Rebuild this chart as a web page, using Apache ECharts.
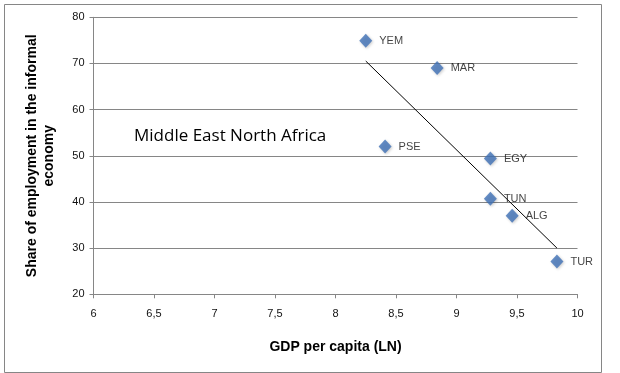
<!DOCTYPE html>
<html>
<head>
<meta charset="utf-8">
<script src="https://cdn.jsdelivr.net/npm/echarts@6/dist/echarts.min.js"></script>
<style>html,body{margin:0;padding:0;background:#fff}#c{width:620px;height:373px}</style>
</head>
<body>
<div id="c"></div>
<script>
const countries = ['YEM', 'MAR', 'PSE', 'EGY', 'TUN', 'ALG', 'TUR'];
const gdpLn = [8.25, 8.84, 8.41, 9.28, 9.28, 9.46, 9.83];
const informalShare = [74.9, 69.0, 52.0, 49.4, 40.7, 37.0, 27.1];
const xTicks = [6, 6.5, 7, 7.5, 8, 8.5, 9, 9.5, 10];
const yTicks = [20, 30, 40, 50, 60, 70, 80];

// linear trend line (least squares) over the data
const n = gdpLn.length;
const mx = gdpLn.reduce((a, b) => a + b, 0) / n;
const my = informalShare.reduce((a, b) => a + b, 0) / n;
let sxy = 0, sxx = 0;
for (let i = 0; i < n; i++) { sxy += (gdpLn[i] - mx) * (informalShare[i] - my); sxx += (gdpLn[i] - mx) ** 2; }
const slope = sxy / sxx, icpt = my - slope * mx;
const xMin = Math.min(...gdpLn), xMax = Math.max(...gdpLn);
const trend = [[xMin, icpt + slope * xMin], [xMax, icpt + slope * xMax]];

const font = '"Liberation Sans", Arial, sans-serif';
const chart = echarts.init(document.getElementById('c'), null, { renderer: 'canvas' });
chart.setOption({
  animation: false,
  backgroundColor: '#fff',
  grid: { left: 93.5, right: 42.5, top: 17.3, bottom: 78.7, containLabel: false },
  xAxis: {
    type: 'value', min: xTicks[0], max: xTicks[xTicks.length - 1], interval: 0.5,
    axisLine: { show: true, onZero: false, lineStyle: { color: '#868686', width: 1 } },
    axisTick: { show: true, length: 4, lineStyle: { color: '#868686' } },
    splitLine: { show: false },
    axisLabel: { color: '#111', fontSize: 11, fontFamily: font, margin: 14,
      formatter: v => String(v).replace('.', ',') },
    name: 'GDP per capita (LN)', nameLocation: 'middle', nameGap: 46,
    nameTextStyle: { color: '#000', fontSize: 14, fontWeight: 'bold', fontFamily: font }
  },
  yAxis: {
    type: 'value', min: yTicks[0], max: yTicks[yTicks.length - 1], interval: 10,
    axisLine: { show: true, lineStyle: { color: '#868686', width: 1 } },
    axisTick: { show: true, length: 4, lineStyle: { color: '#868686' } },
    splitLine: { show: true, lineStyle: { color: '#868686', width: 1 } },
    axisLabel: { color: '#111', fontSize: 11, fontFamily: font, margin: 9 },
    name: 'Share of employment in the informal\neconomy', nameLocation: 'middle', nameGap: 36,
    nameTextStyle: { color: '#000', fontSize: 14, fontWeight: 'bold', fontFamily: font, lineHeight: 17 }
  },
  series: [
    {
      type: 'line', data: trend, symbol: 'none', silent: true,
      lineStyle: { color: '#000', width: 1 }, z: 1
    },
    {
      type: 'scatter', z: 2,
      data: gdpLn.map((x, i) => ({ value: [x, informalShare[i]], name: countries[i] })),
      symbol: 'diamond', symbolSize: [13, 14],
      itemStyle: { color: '#3f70b6', shadowColor: 'rgba(0,0,0,0.25)', shadowBlur: 3, shadowOffsetX: 1, shadowOffsetY: 1 },
      label: { show: true, position: 'right', distance: 7, formatter: p => p.name,
        color: '#111', fontSize: 11, fontFamily: font }
    }
  ],
  graphic: [
    { type: 'rect', left: 2, top: 2, shape: { width: 597, height: 368 },
      style: { fill: 'none', stroke: '#868686', lineWidth: 1 }, silent: true, z: -1 },
    { type: 'text', left: 134, top: 128,
      style: { text: 'Middle East North Africa', fill: '#000', fontSize: 17, fontFamily: '"Open Sans", sans-serif' } }
  ]
});
</script>
</body>
</html>
